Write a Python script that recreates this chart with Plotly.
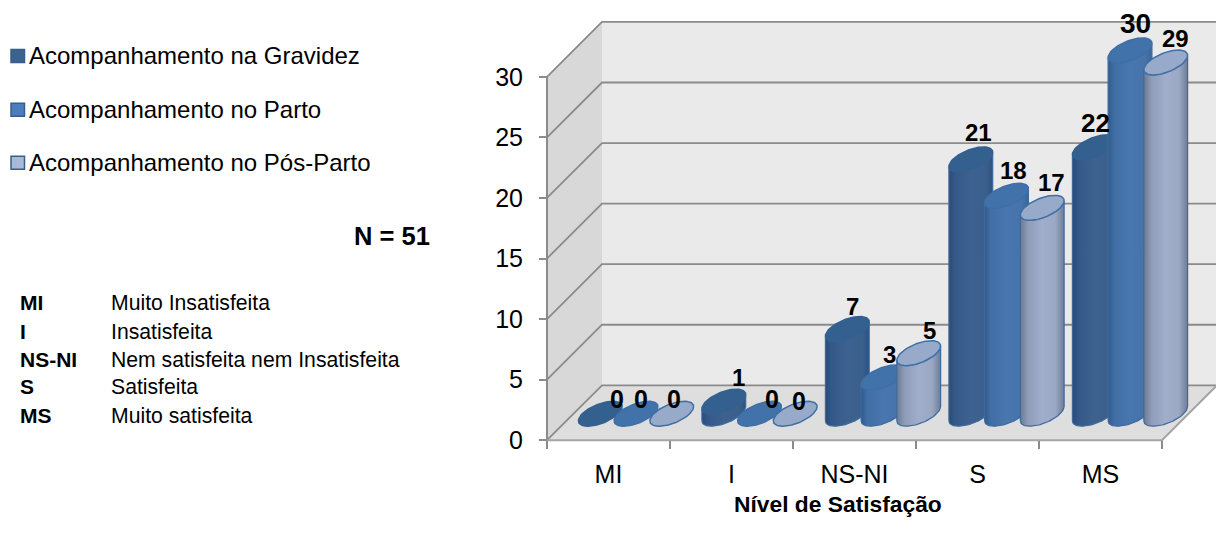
import math
import numpy as np
import plotly.graph_objects as go

# Chart data
categories = ["MI", "I", "NS-NI", "S", "MS"]
series_names = ["Acompanhamento na Gravidez", "Acompanhamento no Parto", "Acompanhamento no Pós-Parto"]
gravidez = [0, 1, 7, 21, 22]
parto = [0, 0, 3, 18, 30]
pos_parto = [0, 0, 5, 17, 29]
series_values = [gravidez, parto, pos_parto]
y_ticks = [0, 5, 10, 15, 20, 25, 30]

legend_abbrev = ["MI", "I", "NS-NI", "S", "MS"]
legend_meaning = ["Muito Insatisfeita", "Insatisfeita", "Nem satisfeita nem Insatisfeita",
                  "Satisfeita", "Muito satisfeita"]

# Canvas and axis geometry, in pixels
W, H = 1216, 544
PLOT_H = 539  # drawable height left once plotly has reserved its bottom strip
X0_PX, Y0_PX = 547, 441
PX_PER_CAT = 123.0
PX_PER_UNIT = 12.133
DEPTH_PX = 55.0

DX = DEPTH_PX / PX_PER_CAT
DY = DEPTH_PX / PX_PER_UNIT
X_PAD, Y_PAD = 0.05, 0.6
X_MAX = (W - X0_PX) / PX_PER_CAT
Y_MAX = Y0_PX / PX_PER_UNIT

# Cylinder geometry
GROUP_PITCH = 123.5 / PX_PER_CAT
GROUP_START = 0.5 + 1.0 / PX_PER_CAT
BAR_STEP = 35.7 / PX_PER_CAT
RU_PX, RV_PX = 18.0, 12.5
RU = RU_PX / PX_PER_CAT
RV = RV_PX / DEPTH_PX
DEPTH_CENTER = 0.482
T0 = math.atan2(RV_PX, RU_PX)

# Styling
GRID = "#8b8b8b"
WALL_BACK = "#eaeaea"
WALL_SIDE = "#d8d8d8"
FLOOR = "#dedede"
EDGE = "#3d6a9e"
TOP_FILL = ["#34608f", "#4272aa", "#98aaca"]
TOP_EDGE = ["#34608f", "#3f6fa6", "#3f6fa6"]
SIDE_STOPS = [
    [[0, "#2b4b76"], [0.14, "#35588a"], [0.5, "#3d628f"], [0.85, "#3b5f8b"], [1, "#2f5180"]],
    [[0, "#315a8a"], [0.14, "#416ea4"], [0.5, "#4876af"], [0.85, "#4673a9"], [1, "#3a6696"]],
    [[0, "#6c7990"], [0.18, "#8f9dba"], [0.5, "#a0aecb"], [0.8, "#9aa8c4"], [1, "#707c94"]],
]
LEGEND_SWATCH = ["#3c638f", "#4a7ebb", "#a9b9d6"]
LEGEND_BORDER = ["#385d8a", "#385d8a", "#385d8a"]

# Pixel nudges of the value labels relative to each cylinder's top (right, up)
label_nudge = [
    [(17, 15), (15, 24), (5, 22), (8, 27), (1, 24)],
    [(5, 15), (12.5, 15), (6, 23), (7, 25), (5, 27)],
    [(2, 15), (4, 13), (11, 23), (9, 25), (10, 24)],
]
label_size = [
    [25, 24, 24, 24, 26],
    [25, 25, 24, 24, 28],
    [25, 25, 24, 24, 24],
]

FONT = "Liberation Sans, Arial, sans-serif"


def bar_position(i, j):
    return GROUP_START + i * GROUP_PITCH + (j - 1) * BAR_STEP


def ellipse_point(u, value, t):
    d = DEPTH_CENTER + RV * np.sin(t)
    return u + RU * np.cos(t) + d * DX, value + d * DY


def poly(xs, ys, fill, name, line_color="rgba(0,0,0,0)", line_width=0):
    return go.Scatter(x=list(xs), y=list(ys), mode="lines", fill="toself", fillcolor=fill,
                      line=dict(color=line_color, width=line_width), name=name,
                      hoverinfo="skip", showlegend=False)


fig = go.Figure()

# Walls and floor of the 3D box
fig.add_trace(poly([0, DX, DX, 0, 0], [0, DY, 30 + DY, 30, 0], WALL_SIDE, "side wall"))
fig.add_trace(poly([DX, 5 + DX, 5 + DX, DX, DX], [DY, DY, 30 + DY, 30 + DY, DY], WALL_BACK, "back wall"))
fig.add_trace(poly([0, 5, 5 + DX, DX, 0], [0, 0, DY, DY, 0], FLOOR, "floor"))

# Gridlines bent around the walls
for v in y_ticks:
    fig.add_trace(go.Scatter(x=[0, DX, 5 + DX], y=[v, v + DY, v + DY], mode="lines",
                             line=dict(color=GRID, width=1.8), hoverinfo="skip", showlegend=False))

# Front axis lines
fig.add_trace(go.Scatter(x=[0, 0], y=[0, 30], mode="lines", line=dict(color=GRID, width=2),
                         hoverinfo="skip", showlegend=False))
fig.add_trace(go.Scatter(x=[0, 5, 5 + DX], y=[0, 0, DY], mode="lines", line=dict(color="#a5a5a5", width=2),
                         hoverinfo="skip", showlegend=False))

# Cylinders, one group at a time so later series overlap earlier ones
front = np.linspace(T0 + math.pi, T0 + 2 * math.pi, 50)
whole = np.linspace(0, 2 * math.pi, 90)
for i, cat in enumerate(categories):
    for j, values in enumerate(series_values):
        value = values[i]
        u = bar_position(i, j)
        if value > 0:
            bx, by = ellipse_point(u, 0, front)
            tx, ty = ellipse_point(u, value, front[::-1])
            fig.add_trace(go.Scatter(
                x=np.concatenate([bx, tx, bx[:1]]).tolist(),
                y=np.concatenate([by, ty, by[:1]]).tolist(),
                mode="lines", fill="toself",
                fillgradient=dict(type="horizontal", colorscale=SIDE_STOPS[j]),
                line=dict(color=EDGE, width=1.2), name=f"{series_names[j]} {cat}",
                hoverinfo="skip", showlegend=False))
        ex, ey = ellipse_point(u, value, whole)
        fig.add_trace(poly(ex, ey, TOP_FILL[j], f"{series_names[j]} {cat} top", TOP_EDGE[j], 1.5))

annotations = []

# Value labels
for j, values in enumerate(series_values):
    for i, value in enumerate(values):
        u = bar_position(i, j)
        dx_px, dy_px = label_nudge[j][i]
        annotations.append(dict(
            x=u + DEPTH_CENTER * DX, y=value + DEPTH_CENTER * DY, xref="x", yref="y", text=f"<b>{value}</b>",
            showarrow=False, xanchor="center", yanchor="middle", xshift=dx_px, yshift=dy_px,
            font=dict(family=FONT, size=label_size[j][i], color="#000000")))


def page_text(px, py, text, size, anchor="left", bold=False, color="#000000"):
    annotations.append(dict(
        x=px / W, y=1 - py / PLOT_H, xref="paper", yref="paper", showarrow=False,
        text=f"<b>{text}</b>" if bold else text, xanchor=anchor, yanchor="middle",
        font=dict(family=FONT, size=size, color=color)))


# Legend built from swatches and text
shapes = []
for name, py, fill, border in zip(series_names, [56, 110, 163], LEGEND_SWATCH, LEGEND_BORDER):
    shapes.append(dict(type="rect", xref="paper", yref="paper",
                       x0=11 / W, x1=24.5 / W, y0=1 - (py + 6.5) / PLOT_H, y1=1 - (py - 6.5) / PLOT_H,
                       fillcolor=fill, line=dict(color=border, width=1.5)))
    page_text(27, py, name, 24)

page_text(432, 236, "N = 51", 25.5, anchor="right", bold=True)

# Abbreviation key
for abbrev, meaning, py in zip(legend_abbrev, legend_meaning, [303, 332, 360, 387, 416]):
    page_text(18, py, abbrev, 21, bold=True)
    page_text(109, py, meaning, 21.2)

page_text(838, 505, "Nível de Satisfação", 22.8, anchor="center", bold=True)

fig.update_layout(
    width=W, height=H, autosize=False,
    margin=dict(l=0, r=0, t=0, b=0, pad=0),
    paper_bgcolor="white", plot_bgcolor="rgba(0,0,0,0)",
    showlegend=False, shapes=shapes, annotations=annotations,
    font=dict(family=FONT, color="#000000"),
    xaxis=dict(
        domain=[(X0_PX - X_PAD * PX_PER_CAT) / W, 1],
        range=[-X_PAD, X_MAX],
        anchor="free", position=(PLOT_H - Y0_PX) / PLOT_H,
        tickmode="array", tickvals=[i + 0.5 for i in range(len(categories))], ticktext=categories,
        ticks="outside", ticklen=0, tickwidth=0, ticklabelstandoff=12,
        minor=dict(tickmode="array", tickvals=list(range(len(categories) + 1)),
                   ticks="outside", ticklen=8, tickwidth=2, tickcolor=GRID, showgrid=False),
        showgrid=False, zeroline=False, showline=False,
        tickfont=dict(family=FONT, size=25, color="#000000"),
    ),
    yaxis=dict(
        domain=[(PLOT_H - Y0_PX - Y_PAD * PX_PER_UNIT) / PLOT_H, 1],
        range=[-Y_PAD, Y_MAX],
        anchor="free", position=X0_PX / W,
        tickmode="array", tickvals=y_ticks,
        ticks="outside", ticklen=8, tickwidth=2, tickcolor=GRID, ticklabelstandoff=11,
        showgrid=False, zeroline=False, showline=False,
        tickfont=dict(family=FONT, size=25, color="#000000"),
    ),
)

fig.write_html("out.html")
